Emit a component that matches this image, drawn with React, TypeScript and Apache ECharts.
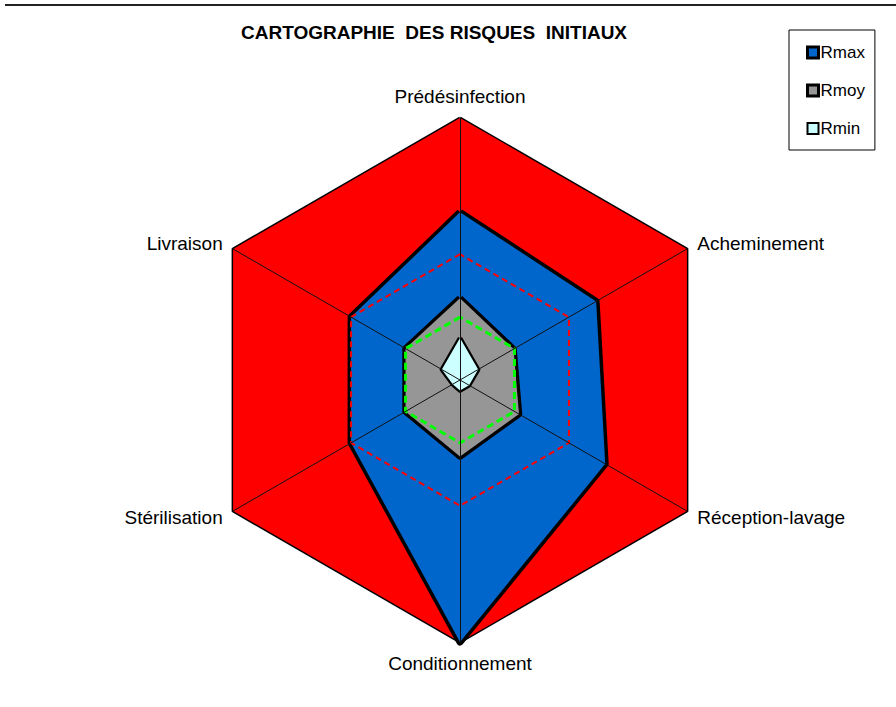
import React, { useEffect, useRef } from "react";
import * as echarts from "echarts";

// Axes in clockwise order starting at the top (as in the reference)
const categories = [
  "Prédésinfection",
  "Acheminement",
  "Réception-lavage",
  "Conditionnement",
  "Stérilisation",
  "Livraison",
];
const scaleMax = 25;
const outerValues = [25, 25, 25, 25, 25, 25];
const rmaxValues = [16, 15, 16, 25, 12, 12];
const redThreshold = [12, 12, 12, 12, 12, 12];
const rmoyValues = [7.8, 5.9, 6.5, 7.3, 6, 6];
const greenThreshold = [6, 6, 6, 6, 6, 6];
const rminValues = [4, 2, 1, 1, 0.8, 2];
const legendNames = ["Rmax", "Rmoy", "Rmin"];
const titleText = "CARTOGRAPHIE  DES RISQUES  INITIAUX";

// ECharts places radar indicators counter-clockwise; reorder to get clockwise
const ecOrder = [0, 5, 4, 3, 2, 1];
const reorder = (arr: number[]) => ecOrder.map((i) => arr[i]);

const FONT = "'Liberation Sans', Arial, sans-serif";

export default function App() {
  const ref = useRef<HTMLDivElement>(null);
  useEffect(() => {
    if (!ref.current) return;
    const chart = echarts.init(ref.current, null, { renderer: "svg" });
    const lineSeries = (
      name: string,
      values: number[],
      z: number,
      lineStyle: any,
      areaColor: string | null,
      itemColor: string
    ) => ({
      type: "radar",
      name,
      z,
      symbol: "none",
      silent: true,
      itemStyle: { color: itemColor },
      lineStyle,
      areaStyle: areaColor ? { color: areaColor, opacity: 1 } : undefined,
      data: [{ name, value: reorder(values) }],
    });
    chart.setOption({
      animation: false,
      backgroundColor: "#ffffff",
      title: {
        text: titleText,
        left: 236,
        top: 18,
        textStyle: {
          fontFamily: FONT,
          fontSize: 19,
          fontWeight: "bold",
          color: "#000",
        },
      },
      legend: {
        orient: "vertical",
        left: 789,
        top: 30,
        padding: [14, 10, 13, 17],
        itemGap: 21,
        itemWidth: 11,
        itemHeight: 11,
        backgroundColor: "#fff",
        borderColor: "#000",
        borderWidth: 1,
        borderRadius: 0,
        textStyle: { fontFamily: FONT, fontSize: 17, color: "#000", padding: [0, 0, 0, -3] },
        data: [
          { name: legendNames[0], icon: "rect", itemStyle: { color: "#0066CC", borderColor: "#000", borderWidth: 3 } },
          { name: legendNames[1], icon: "rect", itemStyle: { color: "#969696", borderColor: "#000", borderWidth: 3 } },
          { name: legendNames[2], icon: "rect", itemStyle: { color: "#CCFFFF", borderColor: "#000", borderWidth: 2 } },
        ],
      },
      radar: {
        center: [460, 380],
        radius: 262,
        startAngle: 90,
        shape: "polygon",
        splitNumber: 1,
        z: 10,
        nameGap: 12,
        axisName: { color: "#000", fontFamily: FONT, fontSize: 19 },
        axisLine: { show: true, lineStyle: { color: "#111", width: 1 } },
        splitLine: { show: false },
        splitArea: { show: false },
        indicator: ecOrder.map((i) => ({ name: categories[i], max: scaleMax, min: 0 })),
      },
      graphic: [
        {
          type: "line",
          shape: { x1: 5, y1: 5, x2: 896, y2: 5 },
          style: { stroke: "#222", lineWidth: 2 },
        },
      ],
      series: [
        lineSeries("Outer", outerValues, 1, { color: "#000", width: 3 }, "#FF0000", "#FF0000"),
        lineSeries("Rmax", rmaxValues, 2, { color: "#000", width: 7 }, "#0066CC", "#0066CC"),
        lineSeries("Seuil12", redThreshold, 3, { color: "#FF0000", width: 2, type: [6, 4] }, null, "#FF0000"),
        lineSeries("Rmoy", rmoyValues, 4, { color: "#000", width: 6.5 }, "#969696", "#969696"),
        lineSeries("Seuil6", greenThreshold, 5, { color: "#00FF00", width: 3, type: [7, 4] }, null, "#00FF00"),
        lineSeries("Rmin", rminValues, 6, { color: "#000", width: 4.5 }, "#CCFFFF", "#CCFFFF"),
      ],
    });
    return () => chart.dispose();
  }, []);
  return (
    <div
      ref={ref}
      style={{ position: "absolute", left: 0, top: 0, width: 896, height: 707, background: "#fff" }}
    />
  );
}
